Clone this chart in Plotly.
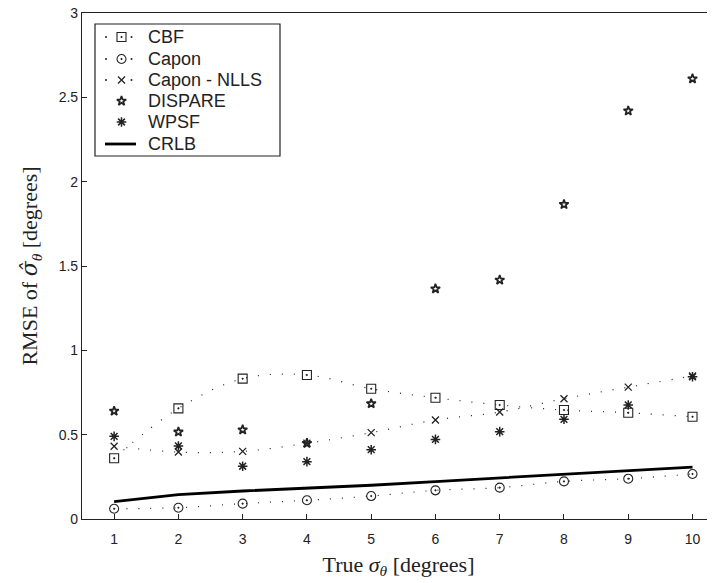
import plotly.graph_objects as go

x_vals = [1, 2, 3, 4, 5, 6, 7, 8, 9, 10]
cbf = [0.36, 0.656, 0.832, 0.854, 0.772, 0.719, 0.676, 0.646, 0.630, 0.606]
capon = [0.061, 0.067, 0.091, 0.111, 0.136, 0.170, 0.186, 0.223, 0.239, 0.267]
capon_nlls = [0.431, 0.397, 0.401, 0.449, 0.512, 0.587, 0.634, 0.713, 0.782, 0.848]
dispare = [0.640, 0.516, 0.529, 0.449, 0.684, 1.365, 1.417, 1.865, 2.42, 2.61]
wpsf = [0.490, 0.433, 0.313, 0.340, 0.411, 0.472, 0.518, 0.591, 0.676, 0.843]
crlb = [0.103, 0.144, 0.166, 0.182, 0.200, 0.222, 0.243, 0.265, 0.287, 0.308]

series_names = ["CBF", "Capon", "Capon - NLLS", "DISPARE", "WPSF", "CRLB"]
x_ticks = [1, 2, 3, 4, 5, 6, 7, 8, 9, 10]
y_ticks = [0, 0.5, 1, 1.5, 2, 2.5, 3]
y_tick_text = ["0", "0.5", "1", "1.5", "2", "2.5", "3"]

INK = "#222"
DOT = "1px,11px"
SYM = {
    "CBF": ("square-open-dot", 9, 1.1),
    "Capon": ("circle-open-dot", 9, 1.1),
    "Capon - NLLS": ("x-thin-open", 7, 1.3),
    "DISPARE": ("star-open", 7, 1.7),
    "WPSF": ("asterisk-open", 8, 1.5),
}

fig = go.Figure()

def dotted(name, y):
    sym, size, lw = SYM[name]
    fig.add_trace(go.Scatter(
        x=x_vals, y=y, name=name, mode="lines+markers", showlegend=False,
        line=dict(color=INK, width=1.2, dash=DOT, shape="spline", smoothing=1.0),
        marker=dict(symbol=sym, size=size, color=INK, line=dict(color=INK, width=lw)),
    ))

def markers(name, y):
    sym, size, lw = SYM[name]
    fig.add_trace(go.Scatter(
        x=x_vals, y=y, name=name, mode="markers", showlegend=False,
        marker=dict(symbol=sym, size=size, color=INK, line=dict(color=INK, width=lw)),
    ))

dotted("CBF", cbf)
dotted("Capon", capon)
dotted("Capon - NLLS", capon_nlls)
markers("DISPARE", dispare)
markers("WPSF", wpsf)
fig.add_trace(go.Scatter(
    x=x_vals, y=crlb, name="CRLB", mode="lines", showlegend=False,
    line=dict(color="black", width=2.8),
))

# ---- custom legend, positioned in page-pixel coordinates of the plot area ----
OFF = 8  # default page body margin
PL, PR, PT, PB = 82, 715, 13, 519
W, H = 715, 583
leg_rows = [37, 59, 80, 101, 122, 144]
for i, name in enumerate(series_names):
    yy = leg_rows[i]
    if name in ("CBF", "Capon", "Capon - NLLS"):
        sym, size, lw = SYM[name]
        fig.add_trace(go.Scatter(
            x=[106, 131.5], y=[yy, yy], xaxis="x2", yaxis="y2", mode="markers",
            showlegend=False, hoverinfo="skip",
            marker=dict(symbol="circle", size=2, color=INK),
        ))
        fig.add_trace(go.Scatter(
            x=[121.5], y=[yy], xaxis="x2", yaxis="y2", mode="markers",
            showlegend=False, hoverinfo="skip",
            marker=dict(symbol=sym, size=size, color=INK, line=dict(color=INK, width=lw)),
        ))
    elif name in SYM:
        sym, size, lw = SYM[name]
        fig.add_trace(go.Scatter(
            x=[121.5], y=[yy], xaxis="x2", yaxis="y2", mode="markers",
            showlegend=False, hoverinfo="skip",
            marker=dict(symbol=sym, size=size, color=INK, line=dict(color=INK, width=lw)),
        ))
    else:
        fig.add_trace(go.Scatter(
            x=[105, 136], y=[yy, yy], xaxis="x2", yaxis="y2", mode="lines",
            showlegend=False, hoverinfo="skip",
            line=dict(color="black", width=2.8),
        ))
    fig.add_annotation(
        x=146, y=yy, xref="x2", yref="y2", text=name, showarrow=False,
        xanchor="left", yanchor="middle",
        font=dict(family="Liberation Sans, Arial", size=18, color=INK),
    )
fig.add_shape(type="rect", xref="x2", yref="y2", x0=95, x1=280, y0=24, y1=156,
              line=dict(color=INK, width=1.2), fillcolor="rgba(0,0,0,0)", layer="below")

axis_common = dict(
    showgrid=False, zeroline=False, showline=True, linecolor=INK,
    linewidth=1.2, ticks="inside", ticklen=5, tickcolor=INK, automargin=False,
    ticklabeloverflow="allow",
    tickfont=dict(family="Liberation Sans, Arial", size=14, color=INK),
)

fig.update_layout(
    width=W, height=H,
    margin=dict(l=PL - OFF, r=W - (PR - OFF), t=PT - OFF, b=H - (PB - OFF)),
    plot_bgcolor="white", paper_bgcolor="white",
    showlegend=False,
    xaxis=dict(
        range=[0.5, 10.35], tickvals=x_ticks, mirror=True, ticklabelstandoff=7,
        title=dict(text="True <i>σ</i><sub><i>θ</i></sub> [degrees]",
                   font=dict(family="Liberation Serif, Times New Roman", size=22, color=INK),
                   standoff=10),
        **axis_common,
    ),
    yaxis=dict(
        range=[0, 3], tickvals=y_ticks, ticktext=y_tick_text,
        title=dict(text="RMSE of <span style='font-family:DejaVu Serif'><i>σ\u0302</i></span><sub><i>θ</i></sub> [degrees]",
                   font=dict(family="Liberation Serif, Times New Roman", size=22, color=INK),
                   standoff=14),
        **axis_common,
    ),
    xaxis2=dict(range=[PL, PR], overlaying="x", visible=False, fixedrange=True),
    yaxis2=dict(range=[PB, PT], overlaying="y", visible=False, fixedrange=True),
)

fig.write_html("out.html")
